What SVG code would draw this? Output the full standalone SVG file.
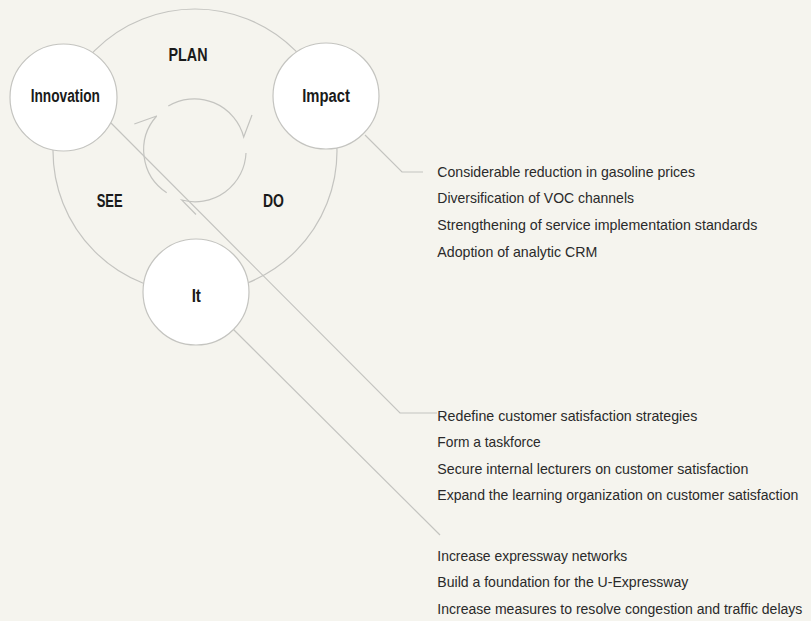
<svg xmlns="http://www.w3.org/2000/svg" width="811" height="621" viewBox="0 0 811 621">
<style>
.ln{fill:none;stroke:#c4c4c0;stroke-width:1.2}
.node{fill:#ffffff;stroke:#c4c4c0;stroke-width:1.2}
.lbl{font-family:"Liberation Sans Narrow","Liberation Sans",Arial,sans-serif;font-weight:bold;font-size:17.5px;fill:#1a1a1a;text-anchor:middle}
.item{font-family:"Liberation Sans Narrow","Liberation Sans",Arial,sans-serif;font-size:14.8px;fill:#2a2a2a}
.long{font-size:14px}
</style>
<rect width="811" height="621" fill="#f5f4ee"/>
<g id="cycle">
<circle class="ln" cx="195" cy="151" r="142"/>
<path class="ln" d="M168.3,106 A51,51 0 0 1 243.7,137 L252,115"/>
<path class="ln" d="M246,153 A51,51 0 0 1 181.7,200 L196,214.5"/>
<path class="ln" d="M166.7,192.7 A51,51 0 0 1 156.7,116 L134.3,124"/>
</g>
<g id="connectors">
<polyline class="ln" points="365,135 402,172 423,172"/>
<polyline class="ln" points="111,123 400,413 437,413"/>
<line class="ln" x1="233.5" y1="329.5" x2="440" y2="535"/>
</g>
<g id="phase-labels">
<text class="lbl" x="188" y="60.7" textLength="39" lengthAdjust="spacingAndGlyphs">PLAN</text>
<text class="lbl" x="109.7" y="207" textLength="26" lengthAdjust="spacingAndGlyphs">SEE</text>
<text class="lbl" x="273.5" y="207" textLength="21" lengthAdjust="spacingAndGlyphs">DO</text>
</g>
<g id="node-innovation">
<circle class="node" cx="63.5" cy="97.5" r="53.5"/>
<text class="lbl" x="65.3" y="102.3" textLength="69.3" lengthAdjust="spacingAndGlyphs">Innovation</text>
</g>
<g id="node-impact">
<circle class="node" cx="326" cy="96" r="53"/>
<text class="lbl" x="326" y="101.5" textLength="47.7" lengthAdjust="spacingAndGlyphs">Impact</text>
</g>
<g id="node-it">
<circle class="node" cx="196" cy="292" r="53"/>
<text class="lbl" x="196.3" y="301.5" textLength="9.3" lengthAdjust="spacingAndGlyphs">It</text>
</g>
<g id="list-impact">
<text class="item" x="437.3" y="176.7" textLength="257.7" lengthAdjust="spacingAndGlyphs">Considerable reduction in gasoline prices</text>
<text class="item" x="437.3" y="203.3" textLength="196.7" lengthAdjust="spacingAndGlyphs">Diversification of VOC channels</text>
<text class="item" x="437.3" y="230" textLength="320" lengthAdjust="spacingAndGlyphs">Strengthening of service implementation standards</text>
<text class="item" x="437.3" y="256.7" textLength="160" lengthAdjust="spacingAndGlyphs">Adoption of analytic CRM</text>
</g>
<g id="list-innovation">
<text class="item" x="437.3" y="420.5" textLength="260" lengthAdjust="spacingAndGlyphs">Redefine customer satisfaction strategies</text>
<text class="item" x="437.3" y="447.2" textLength="103.4" lengthAdjust="spacingAndGlyphs">Form a taskforce</text>
<text class="item" x="437.3" y="473.5" textLength="311" lengthAdjust="spacingAndGlyphs">Secure internal lecturers on customer satisfaction</text>
<text class="item long" x="437.3" y="500" textLength="361" lengthAdjust="spacingAndGlyphs">Expand the learning organization on customer satisfaction</text>
</g>
<g id="list-it">
<text class="item" x="437.3" y="561" textLength="190" lengthAdjust="spacingAndGlyphs">Increase expressway networks</text>
<text class="item" x="437.3" y="587.3" textLength="251" lengthAdjust="spacingAndGlyphs">Build a foundation for the U-Expressway</text>
<text class="item long" x="437.3" y="613.8" textLength="365" lengthAdjust="spacingAndGlyphs">Increase measures to resolve congestion and traffic delays</text>
</g>
</svg>
